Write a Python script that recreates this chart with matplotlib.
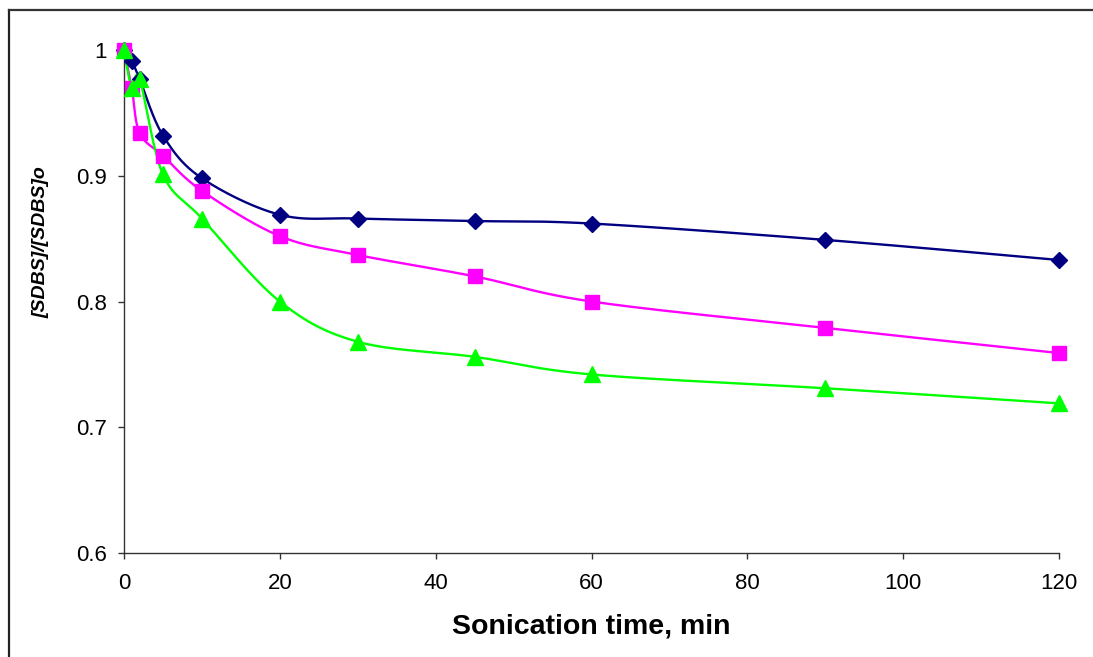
import numpy as np
import matplotlib
matplotlib.use("Agg")
import matplotlib.pyplot as plt
from matplotlib.lines import Line2D

# ---- data ----
time_min = [0, 1, 2, 5, 10, 20, 30, 45, 60, 90, 120]
series_blue = [1.000, 0.991, 0.977, 0.932, 0.898, 0.869, 0.866, 0.864, 0.862, 0.849, 0.833]
series_magenta = [1.000, 0.970, 0.934, 0.916, 0.888, 0.852, 0.837, 0.820, 0.800, 0.779, 0.759]
series_green = [1.000, 0.970, 0.977, 0.901, 0.866, 0.800, 0.768, 0.756, 0.742, 0.731, 0.719]
x_ticks = [0, 20, 40, 60, 80, 100, 120]
y_ticks = [0.6, 0.7, 0.8, 0.9, 1.0]
y_tick_labels = ["0.6", "0.7", "0.8", "0.9", "1"]
x_label = "Sonication time, min"
y_label = "[SDBS]/[SDBS]o"


def smooth(xs, ys, n=40):
    """Excel-like smoothed line: cubic Bezier segments with Catmull-Rom control points."""
    xs = np.asarray(xs, float)
    ys = np.asarray(ys, float)
    px, py = [], []
    m = len(xs)
    for i in range(m - 1):
        i0 = max(i - 1, 0)
        i3 = min(i + 2, m - 1)
        p0 = np.array([xs[i0], ys[i0]])
        p1 = np.array([xs[i], ys[i]])
        p2 = np.array([xs[i + 1], ys[i + 1]])
        p3 = np.array([xs[i3], ys[i3]])
        c1 = p1 + (p2 - p0) / 6.0
        c2 = p2 - (p3 - p1) / 6.0
        t = np.linspace(0, 1, n)[:, None]
        b = ((1 - t) ** 3) * p1 + 3 * ((1 - t) ** 2) * t * c1 + 3 * (1 - t) * t ** 2 * c2 + t ** 3 * p2
        px.extend(b[:, 0])
        py.extend(b[:, 1])
    return np.array(px), np.array(py)


plt.rcParams['font.family'] = ['Liberation Sans', 'DejaVu Sans']

fig = plt.figure(figsize=(10.93, 6.57), dpi=100)
ax = fig.add_axes([124 / 1093, 1 - 553 / 657, (1059 - 124) / 1093, (553 - 50) / 657])

styles = [
    (series_blue, '#000080', 'D', 7.8),
    (series_magenta, '#FF00FF', 's', 9.5),
    (series_green, '#00FF00', '^', 11),
]
for ys, col, mk, ms in styles:
    sx, sy = smooth(time_min, ys)
    ax.plot(sx, sy, color=col, lw=1.7, zorder=2, clip_on=False)
    ax.plot(time_min, ys, ls='none', marker=mk, ms=ms, color=col, mec=col, zorder=3, clip_on=False)

ax.set_xlim(0, 120)
ax.set_ylim(0.6, 1.0)
ax.set_xticks(x_ticks)
ax.set_yticks(y_ticks)
ax.set_yticklabels(y_tick_labels)
ax.spines['top'].set_visible(False)
ax.spines['right'].set_visible(False)
for s in ('left', 'bottom'):
    ax.spines[s].set_color('#333333')
    ax.spines[s].set_linewidth(1.0)
ax.tick_params(axis='both', direction='out', length=4.3, width=1.0, color='#333333',
               labelsize=16, labelcolor='black')
ax.tick_params(axis='x', pad=10)
ax.tick_params(axis='y', pad=8)

fig.text(591 / 1093, 1 - 627 / 657, x_label, ha='center', va='center',
         fontsize=20.5, fontweight='bold')
fig.text(41 / 1093, 1 - 242 / 657, y_label, ha='center', va='center', rotation=90,
         fontsize=14, fontweight='bold', fontstyle='italic')

# outer frame (left and top edges)
fig.add_artist(Line2D([9 / 1093, 9 / 1093], [0, 1 - 10 / 657], transform=fig.transFigure,
                      color='#222222', lw=1.6))
fig.add_artist(Line2D([9 / 1093, 1], [1 - 10 / 657, 1 - 10 / 657], transform=fig.transFigure,
                      color='#333333', lw=1.6))

fig.savefig('out.png', dpi=100)
